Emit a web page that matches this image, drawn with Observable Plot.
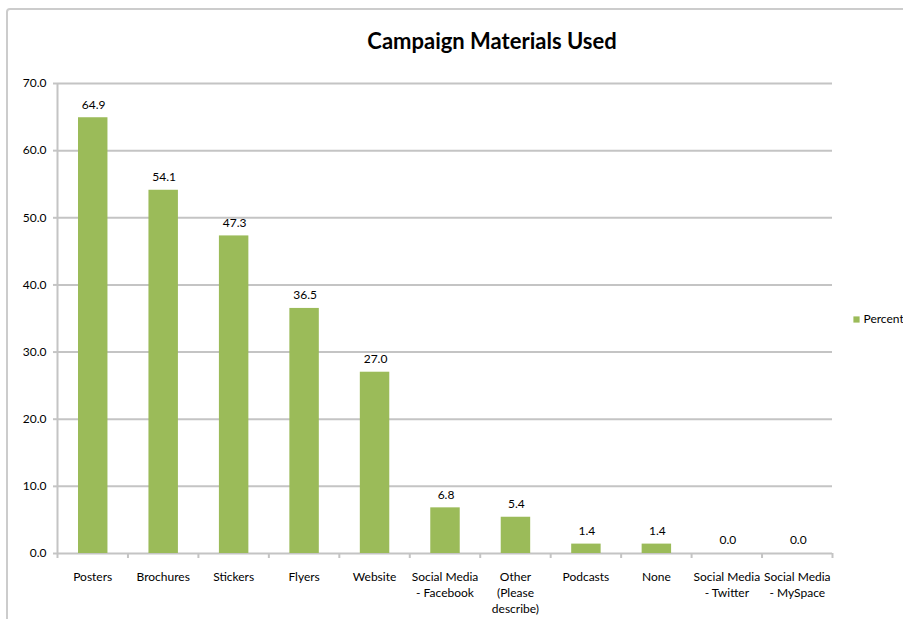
<!DOCTYPE html>
<html>
<head>
<meta charset="utf-8">
<script src="https://cdn.jsdelivr.net/npm/d3@7"></script>
<script src="https://cdn.jsdelivr.net/npm/@observablehq/plot@0.6"></script>
<style>
  html, body { margin: 0; padding: 0; background: #fff; overflow: hidden; }
  #wrap { position: relative; width: 903px; height: 619px; overflow: hidden; }
  #frame { position: absolute; left: 6px; top: 8px; width: 1000px; height: 1000px;
           border: 2px solid #cccccc; border-radius: 4px; box-sizing: border-box; }
  #chart { position: absolute; left: 0; top: 0; }
</style>
</head>
<body>
<div id="wrap"><div id="frame"></div><div id="chart"></div></div>
<script>
const title = "Campaign Materials Used";
const seriesName = "Percent";
const categories = [
  "Posters", "Brochures", "Stickers", "Flyers", "Website",
  "Social Media\n- Facebook", "Other\n(Please\ndescribe)", "Podcasts", "None",
  "Social Media\n- Twitter", "Social Media\n- MySpace"
];
const values = [64.9, 54.1, 47.3, 36.5, 27.0, 6.8, 5.4, 1.4, 1.4, 0.0, 0.0];
const yTicks = [0, 10, 20, 30, 40, 50, 60, 70];

const data = categories.map((c, i) => ({label: c, i, v: values[i]}));
const green = "#9bbb59";
const gridColor = "#c4c4c4";

const chart = Plot.plot({
  width: 903, height: 619,
  marginLeft: 57, marginRight: 71, marginTop: 83, marginBottom: 66,
  style: {fontFamily: "Lato, 'Open Sans', sans-serif", fontSize: "12px", color: "#000", background: "transparent", overflow: "visible"},
  x: {domain: [0, categories.length], axis: null},
  y: {domain: [0, 70], axis: null},
  marks: [
    Plot.ruleY(yTicks, {stroke: gridColor, strokeWidth: 2}),
    Plot.ruleX([0], {stroke: gridColor, strokeWidth: 2}),
    Plot.axisY({ticks: yTicks, tickFormat: d => d.toFixed(1), tickSize: 4, tickPadding: 7,
                stroke: gridColor, strokeWidth: 2, fill: "#000", label: null, fontSize: 12}),
    Plot.axisX({ticks: d3.range(0, categories.length + 1), tickFormat: () => "", tickSize: 5,
                stroke: gridColor, strokeWidth: 2, label: null}),
    Plot.rectY(data, {x1: "i", x2: d => d.i + 1, y1: 0, y2: "v", insetLeft: 21, insetRight: 20, fill: green}),
    Plot.text(data, {x: d => d.i + 0.5, y: "v", text: d => d.v.toFixed(1), dx: 1, dy: -13, fill: "#000", fontSize: 12}),
    Plot.text(data, {x: d => d.i + 0.5, y: 0, text: "label", lineAnchor: "top", dy: 16, lineHeight: 1.33, fill: "#000", fontSize: 12}),
    Plot.text([title], {frameAnchor: "top", lineAnchor: "middle", dx: 47, dy: -42, fontSize: 22, fontWeight: "bold", fill: "#000"}),
    Plot.dot([seriesName], {frameAnchor: "right", dx: 24, dy: 1, symbol: "square", r: 3.5, fill: green, stroke: null}),
    Plot.text([seriesName], {frameAnchor: "right", dx: 31, dy: 1, textAnchor: "start", fill: "#000", fontSize: 12})
  ]
});
document.getElementById("chart").appendChild(chart);
</script>
</body>
</html>
